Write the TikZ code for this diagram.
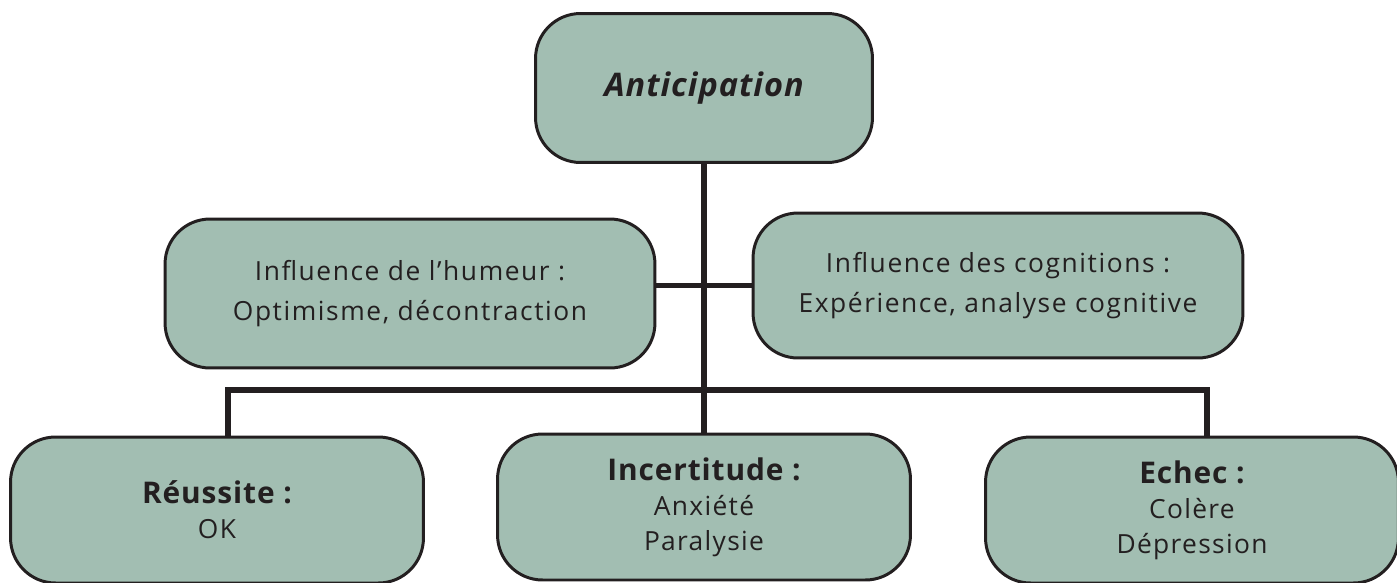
\documentclass[tikz,border=0pt]{standalone}
\usepackage{fontspec}
\setmainfont{Open Sans}
\usepackage{xcolor}
\definecolor{cgreen}{HTML}{A2BEB2}
\definecolor{cink}{HTML}{231F20}

\begin{document}
\begin{tikzpicture}[x=0.02cm, y=-0.02cm]
    \tikzset{
        box/.style={rectangle, draw=cink, line width=1.7pt, rounded corners=0.9cm, fill=cgreen, text=cink, align=center, inner sep=0pt},
        topbox/.style={box, minimum width=6.74cm, minimum height=2.98cm, font=\fontsize{18.5}{20}\selectfont\bfseries\itshape\addfontfeature{LetterSpace=3}},
        influence/.style={box, minimum width=9.8cm, font=\fontsize{15}{23}\selectfont\addfontfeature{LetterSpace=6}},
        outcome/.style={box, minimum width=8.26cm, minimum height=2.92cm, font=\fontsize{15}{20}\selectfont\addfontfeature{LetterSpace=5}},
        link/.style={draw=cink, line width=3.2pt}
    }
    \useasboundingbox (0,0) rectangle (1397,582);

    \node[topbox] (antic) at (704,88) {Anticipation};

    \node[influence, minimum height=2.98cm] (mood_infl) at (410,293.5) {Influence de l'humeur :\\Optimisme, décontraction};
    \node[influence, minimum height=2.9cm] (cogn_infl) at (998,285.5) {Influence des cognitions :\\Expérience, analyse cognitive};

    \node[outcome] (success) at (217,510) {{\fontsize{17}{20}\selectfont\bfseries\addfontfeature{LetterSpace=3}Réussite :}\\OK};
    \node[outcome] (doubt) at (704,507) {{\fontsize{17}{20}\selectfont\bfseries\addfontfeature{LetterSpace=3}Incertitude :}\\Anxiété\\Paralysie};
    \node[outcome] (failure) at (1192,510) {{\fontsize{17}{20}\selectfont\bfseries\addfontfeature{LetterSpace=3}Echec :}\\Colère\\Dépression};

    \coordinate (bus_west) at (228,390);
    \coordinate (bus_east) at (1207,390);

    \path[link] (antic.south) -- (doubt.north);
    \path[link] (mood_infl.east |- cogn_infl.west) -- (cogn_infl.west);
    \path[link] (bus_west |- success.north) -- (bus_west) -- (bus_east) -- (bus_east |- failure.north);
\end{tikzpicture}
\end{document}
